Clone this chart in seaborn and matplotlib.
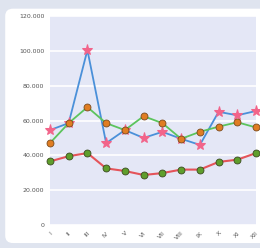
import matplotlib
matplotlib.use('Agg')
import matplotlib.pyplot as plt
from matplotlib.patches import FancyBboxPatch
from matplotlib.ticker import FuncFormatter
import pandas as pd
import seaborn as sns

months = ["I", "II", "III", "IV", "V", "VI", "VII", "VIII", "IX", "X", "XI", "XII"]
seriesA = [54500, 58500, 100500, 47000, 54500, 50000, 53500, 49500, 46000, 65000, 63000, 65500]
seriesB = [47000, 58500, 67700, 58500, 54500, 62500, 58500, 49500, 53500, 56500, 59000, 56000]
seriesC = [36500, 39500, 41300, 32500, 31000, 28700, 29800, 31800, 31800, 36200, 37500, 41300]

df = pd.DataFrame({"x": list(range(len(months))), "A": seriesA, "B": seriesB, "C": seriesC})

fig = plt.figure(figsize=(2.6, 2.48), dpi=100)
fig.patch.set_facecolor("#dfe4ef")

# white card behind the chart
card = FancyBboxPatch((0.02, 0.02), 1.2, 0.945, boxstyle="round,pad=0,rounding_size=0.03",
                      transform=fig.transFigure, facecolor="white", edgecolor="none", zorder=-10)
fig.patches.append(card)

ax = fig.add_axes([0.192, 0.093, 0.793, 0.842])
ax.set_zorder(5)
ax.set_facecolor("#e4e7f6")

sns.lineplot(data=df, x="x", y="C", ax=ax, color="#e4545a", lw=1.5,
             marker="o", markersize=5, markerfacecolor="#5f9e2c", markeredgecolor="#3b4a20",
             markeredgewidth=0.6, clip_on=False, zorder=3)
sns.lineplot(data=df, x="x", y="A", ax=ax, color="#4a90d9", lw=1.3,
             marker="*", markersize=8, markerfacecolor="#f2648a", markeredgecolor="#f2648a",
             clip_on=False, zorder=3)
sns.lineplot(data=df, x="x", y="B", ax=ax, color="#5cc45c", lw=1.3,
             marker="o", markersize=5, markerfacecolor="#e07d22", markeredgecolor="#7a4a1c",
             markeredgewidth=0.6, clip_on=False, zorder=4)

ax.set_xlim(0, len(months) - 1)
ax.set_ylim(0, 120000)
ax.set_yticks(range(0, 120001, 20000))
ax.yaxis.set_major_formatter(FuncFormatter(lambda v, p: "0" if v == 0 else f"{int(v):,}".replace(",", ".")))
ax.set_xticks(range(len(months)))
ax.set_xticklabels(months, rotation=45, ha="right", rotation_mode="anchor")
ax.tick_params(axis="both", length=0, labelsize=4.5, labelcolor="#555555", pad=4)
ax.grid(axis="y", color="white", lw=1.2)
ax.set_axisbelow(True)
for s in ax.spines.values():
    s.set_visible(False)
ax.set_xlabel("")
ax.set_ylabel("")

fig.savefig("out.png", dpi=100, facecolor=fig.get_facecolor())
